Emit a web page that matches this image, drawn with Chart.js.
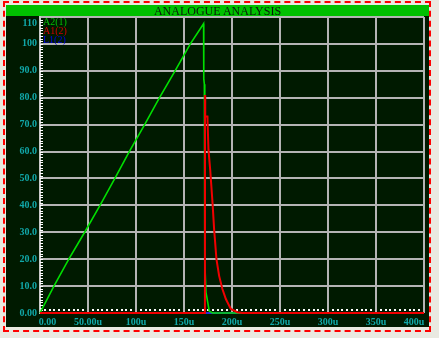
<!DOCTYPE html>
<html>
<head>
<meta charset="utf-8">
<script src="https://cdn.jsdelivr.net/npm/chart.js@4.4.1/dist/chart.umd.min.js"></script>
<style>
  body { margin: 0; background: #e9e9e1; width: 439px; height: 338px; overflow: hidden; position: relative; }
  #frame { position: absolute; left: 3px; top: 1px; width: 424px; height: 327px; border: 2px dashed #ff0000; }
  #title { position: absolute; left: 6px; top: 5px; width: 423px; height: 11px; background: #00c000;
    font: 12px "Liberation Serif", serif; color: #0a1a0a; text-align: center; line-height: 12px; z-index: 2; }
  #plot { position: absolute; left: 6px; top: 16px; width: 423px; height: 311px; background: #001a00; }
  #legend { position: absolute; left: 43px; top: 17px; font: 10px "Liberation Serif", serif; line-height: 9px; z-index: 2; }
</style>
</head>
<body>
<div id="frame"></div>
<div id="title">ANALOGUE ANALYSIS</div>
<div id="plot"><canvas id="chart"></canvas></div>
<div id="legend">
  <div style="color:#00c000">A2(1)</div>
  <div style="color:#d00000">A1(2)</div>
  <div style="color:#0000e0">L1(2)</div>
</div>
<script>
// time in u (µs)
const a2Time = [0, 14.5, 30, 46.5, 62.5, 78, 93, 109, 124.5, 140.7, 156.6, 170.4, 170.6, 171.2, 171.5, 171.8, 172.9, 176.3, 179.7, 220];
const a2Vals = [0, 10, 20, 30, 40, 50, 60, 70, 80, 90, 100, 107.5, 87, 85, 81, 19, 7.7, 0.7, 0, 0];

const a1Time = [0, 171.8, 171.9, 172.1, 174.4, 174.5, 175.5, 177.3, 179.7, 181.4, 183.8, 186.6, 190, 193.6, 198.8, 205.6, 210.8, 400];
const a1Vals = [0, 0, 81, 73, 73, 71.7, 60.6, 53.2, 41, 31, 20, 13.8, 8.9, 5.2, 1.5, 0.3, 0, 0];

const l1Time = [0, 400];
const l1Vals = [0, 0];

const xTickLabels = { 0: "      0.00", 50: "50.00u", 100: "100u", 150: "150u", 200: "200u", 250: "250u", 300: "300u", 350: "350u", 400: "400u        " };

function toPoints(xs, ys) {
  return xs.map((x, i) => ({ x: x, y: ys[i] }));
}

const labelFont = { family: "Liberation Serif", size: 10, weight: "bold" };
const labelColor = "#10a8a8";

// small white ticks along the left and bottom edges
const minorTicks = {
  id: "minorTicks",
  beforeDatasetsDraw(chart) {
    const ctx = chart.ctx;
    const x = chart.scales.x;
    const y = chart.scales.y;
    const area = chart.chartArea;
    ctx.save();
    ctx.strokeStyle = "#ffffff";
    ctx.lineWidth = 1;
    for (let v = 1; v < 110; v++) {
      const py = Math.round(y.getPixelForValue(v)) + 0.5;
      ctx.beginPath();
      ctx.moveTo(area.left, py);
      ctx.lineTo(area.left + 3, py);
      ctx.stroke();
    }
    ctx.fillStyle = "#ffffff";
    for (let t = 5; t < 400; t += 5) {
      if (t % 50 === 0) continue;
      const px = Math.round(x.getPixelForValue(t));
      ctx.fillRect(px - 1, area.bottom - 4, 2, 2);
    }
    ctx.restore();
  },
};

new Chart(document.getElementById("chart"), {
  type: "scatter",
  data: {
    datasets: [
      { label: "A1(2)", data: toPoints(a1Time, a1Vals), borderColor: "#f00000", borderWidth: 2, showLine: true, pointRadius: 0, tension: 0, clip: 4, order: 0 },
      { label: "A2(1)", data: toPoints(a2Time, a2Vals), borderColor: "#00e000", borderWidth: 1.6, showLine: true, pointRadius: 0, tension: 0, clip: 4, order: 1 },
      { label: "L1(2)", data: toPoints(l1Time, l1Vals), borderColor: "#0000e0", borderWidth: 1.5, showLine: true, pointRadius: 0, tension: 0, clip: 4, order: 2 },
    ],
  },
  options: {
    responsive: true,
    maintainAspectRatio: false,
    animation: false,
    layout: { padding: { top: 1, right: 5, left: 0, bottom: 0 } },
    plugins: { legend: { display: false }, tooltip: { enabled: false } },
    scales: {
      x: {
        type: "linear",
        min: 0,
        max: 400,
        afterFit: (scale) => {
          scale.height = 14;
          scale.paddingLeft = 0;
          scale.paddingRight = 0;
        },
        grid: { color: "#b4b4b4", lineWidth: 2, drawTicks: false },
        border: { display: false },
        ticks: {
          stepSize: 50,
          padding: 3,
          maxRotation: 0,
          autoSkip: false,
          color: labelColor,
          font: labelFont,
          callback: (v) => xTickLabels[v],
        },
      },
      y: {
        min: 0,
        max: 110,
        afterFit: (scale) => {
          scale.width = 34;
          scale.paddingTop = 0;
          scale.paddingBottom = 0;
        },
        grid: { color: "#b4b4b4", lineWidth: 2, drawTicks: false },
        border: { color: "#c8c8c8", width: 2 },
        ticks: {
          stepSize: 10,
          padding: 3,
          autoSkip: false,
          color: labelColor,
          font: labelFont,
          callback: (v) => {
            if (v === 0) return "0.00";
            if (v === 110) return ["", "110"];
            if (v >= 100) return String(v);
            return v.toFixed(1);
          },
        },
      },
    },
  },
  plugins: [minorTicks],
});
</script>
</body>
</html>
